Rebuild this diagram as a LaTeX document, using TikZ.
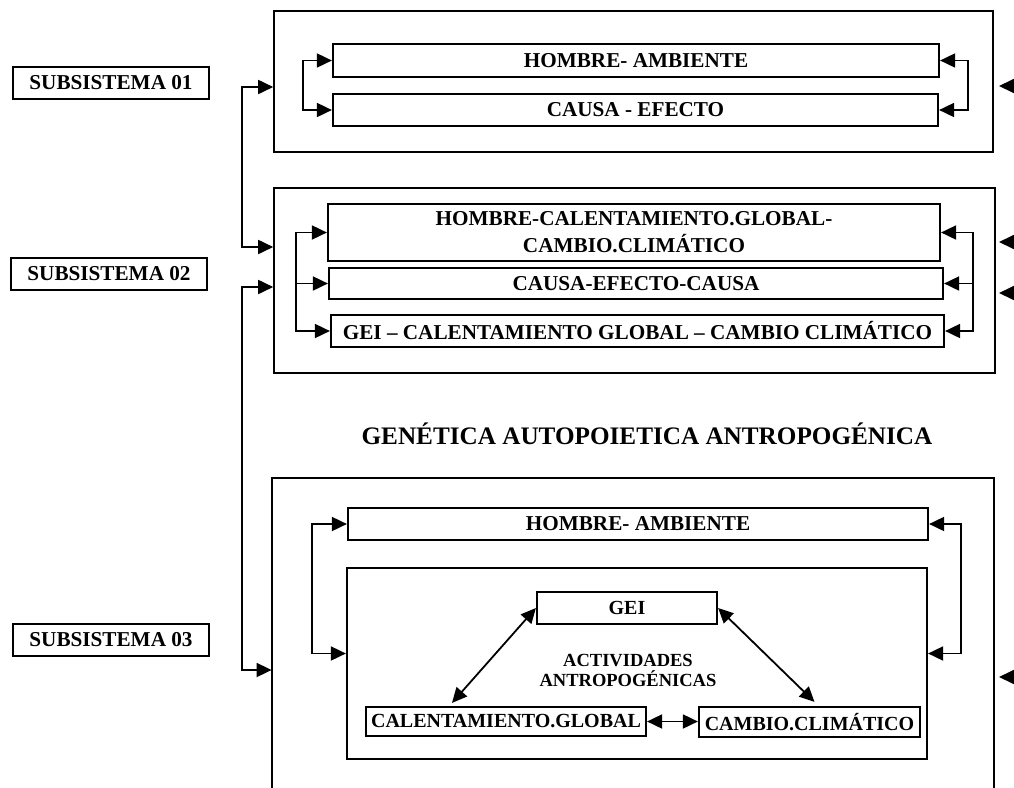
\documentclass[tikz,border=0pt]{standalone}
\usepackage{fontspec}
\setmainfont{Liberation Serif}
\usetikzlibrary{arrows.meta,fit,calc}
\begin{document}
\begin{tikzpicture}[x=0.5pt,y=-0.5pt,
  obox/.style={draw, line width=0.8pt, inner sep=0pt},
  ibox/.style={draw, line width=1.1pt, inner sep=0pt},
  txt/.style={inner sep=0pt, align=center, font=\fontsize{10.6pt}{13.5pt}\selectfont\bfseries},
  smtxt/.style={inner sep=0pt, align=center, font=\fontsize{10pt}{12pt}\selectfont\bfseries},
  arr/.style={line width=0.9pt, -{Triangle[length=7.5pt,width=7pt]}},
  arrb/.style={line width=0.9pt, {Triangle[length=7.5pt,width=7pt]}-{Triangle[length=7.5pt,width=7pt]}},
]
\fill[white] (0,0) rectangle (1014,788);
\useasboundingbox (0,0) rectangle (1014,788);

% subsystem labels
\node[ibox, fit={(13,67) (209,99)}] (s1) {};
\node[txt] (s1t) at (s1.center) {SUBSISTEMA 01};
\node[ibox, fit={(11,258) (207,290)}] (s2) {};
\node[txt] (s2t) at (s2.center) {SUBSISTEMA 02};
\node[ibox, fit={(13,624) (209,656)}] (s3) {};
\node[txt] (s3t) at (s3.center) {SUBSISTEMA 03};

% ---------- subsystem 1 ----------
\node[obox, fit={(274,11) (993,152)}] (box1) {};
\node[ibox, fit={(333,44) (939,77)}] (ha1) {};
\node[txt] (ha1t) at (ha1.center) {HOMBRE- AMBIENTE};
\node[ibox, fit={(333,94) (938,126)}] (ce1) {};
\node[txt] (ce1t) at (ce1.center) {CAUSA - EFECTO};
\coordinate (b1l) at (303,0);
\coordinate (b1r) at (968,0);
\draw[arrb] (ha1.west) -- (ha1.west -| b1l) -- (ce1.west -| b1l) -- (ce1.west);
\draw[arrb] (ha1.east) -- (ha1.east -| b1r) -- (ce1.east -| b1r) -- (ce1.east);

% ---------- subsystem 2 ----------
\node[obox, fit={(274,188) (995,373)}] (box2) {};
\node[ibox, fit={(328,204) (940,261)}] (hc2) {};
\node[txt] (hc2t) at (hc2.center) {HOMBRE-CALENTAMIENTO.GLOBAL-\\CAMBIO.CLIMÁTICO};
\node[ibox, fit={(329,268) (943,299)}] (cec2) {};
\node[txt] (cec2t) at (cec2.center) {CAUSA-EFECTO-CAUSA};
\node[ibox, fit={(331,315) (944,347)}] (gcc2) {};
\node[txt] (gcc2t) at (gcc2.center) {GEI – CALENTAMIENTO GLOBAL – CAMBIO CLIMÁTICO};
\coordinate (b2l) at (296,0);
\coordinate (b2r) at (973,0);
\draw[arrb] (hc2.west) -- (hc2.west -| b2l) -- (gcc2.west -| b2l) -- (gcc2.west);
\draw[arr] (cec2.west -| b2l) -- (cec2.west);
\draw[arrb] (hc2.east) -- (hc2.east -| b2r) -- (gcc2.east -| b2r) -- (gcc2.east);
\draw[arr] (cec2.east -| b2r) -- (cec2.east);

% title
\node[font=\fontsize{12.6pt}{14pt}\selectfont\bfseries, anchor=base, inner sep=0pt] (title) at (647,444)
  {GENÉTICA AUTOPOIETICA ANTROPOGÉNICA};

% ---------- subsystem 3 ----------
\node[inner sep=0pt, fit={(272,478) (994,800)}] (box3) {};
\draw[line width=1pt] (box3.south west) -- (box3.north west) -- (box3.north east) -- (box3.south east);
\node[ibox, fit={(348,508) (928,540)}] (ha3) {};
\node[txt] (ha3t) at (ha3.center) {HOMBRE- AMBIENTE};
\node[ibox, fit={(347,568) (927,759)}] (ib3) {};
\coordinate (b3l) at (312,0);
\coordinate (b3r) at (961,0);
\draw[arrb] (ha3.west) -- (ha3.west -| b3l) -- ($(ib3.west -| b3l)+(0,-10)$) -- ($(ib3.west)+(0,-10)$);
\draw[arrb] (ha3.east) -- (ha3.east -| b3r) -- ($(ib3.east -| b3r)+(0,-10)$) -- ($(ib3.east)+(0,-10)$);

\node[ibox, fit={(537,592) (717,624)}] (gei) {};
\node[smtxt] (geit) at (gei.center) {GEI};
\node[ibox, fit={(366,707) (646,736)}] (cal) {};
\node[smtxt] (calt) at (cal.center) {CALENTAMIENTO.GLOBAL};
\node[ibox, fit={(699,707) (920,737)}] (cc) {};
\node[smtxt] (cct) at (cc.center) {CAMBIO.CLIMÁTICO};
\node[font=\fontsize{9.25pt}{10pt}\selectfont\bfseries, align=center, inner sep=0pt] (act) at (628,670)
  {ACTIVIDADES\\ANTROPOGÉNICAS};
\draw[arrb] (gei.west) -- ($(cal.north)+(-54,-3)$);
\draw[arrb] (gei.east) -- ($(cc.north)+(5,-4)$);
\draw[arrb] (cal.east) -- (cal.east -| cc.west);

% ---------- connectors between subsystems ----------
\coordinate (v1) at (242,0);
\draw[arrb] (box1.west |- 0,87) -- (v1 |- 0,87) -- (v1 |- 0,247) -- (box2.west |- 0,247);
\draw[arrb] (box2.west |- 0,287) -- (v1 |- 0,287) -- (v1 |- 0,670) -- (box3.west |- 0,670);

% arrows entering from the right edge
\coordinate (r1) at (1018,86);
\coordinate (r2) at (1018,242);
\coordinate (r3) at (1018,293);
\coordinate (r4) at (1018,677);
\draw[arr] (r1) -- ++(-19,0);
\draw[arr] (r2) -- ++(-19,0);
\draw[arr] (r3) -- ++(-19,0);
\draw[arr] (r4) -- ++(-19,0);
\end{tikzpicture}
\end{document}
